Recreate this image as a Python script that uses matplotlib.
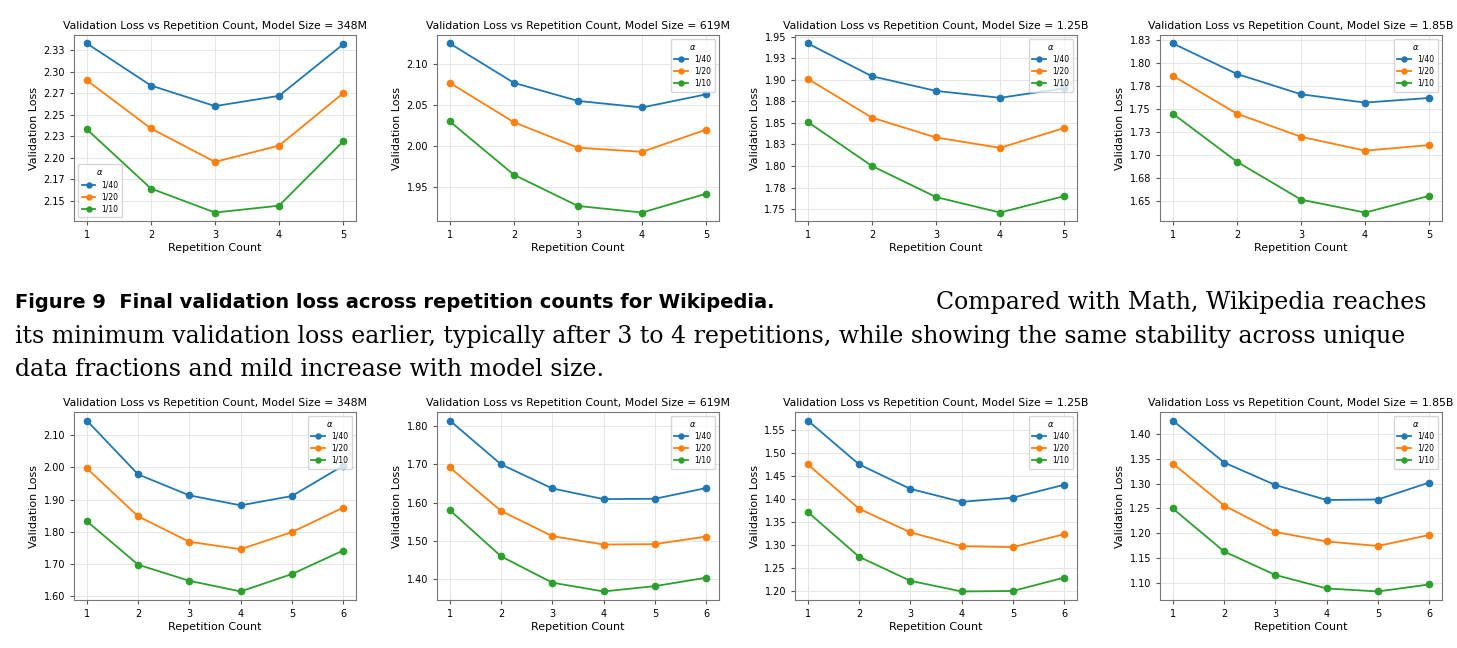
import matplotlib
matplotlib.use("Agg")
import matplotlib.pyplot as plt
from matplotlib.ticker import MultipleLocator, FormatStrFormatter

# --- DATA ---
alphas = ["1/40", "1/20", "1/10"]
colors = ["#1f77b4", "#ff7f0e", "#2ca02c"]

top_sizes = ["348M", "619M", "1.25B", "1.85B"]
top_reps = [1, 2, 3, 4, 5]
top_loss = [
    [[2.333, 2.284, 2.260, 2.272, 2.332],
     [2.290, 2.234, 2.195, 2.214, 2.275],
     [2.233, 2.164, 2.136, 2.144, 2.219]],
    [[2.125, 2.077, 2.055, 2.047, 2.063],
     [2.077, 2.029, 1.998, 1.993, 2.020],
     [2.030, 1.965, 1.927, 1.919, 1.942]],
    [[1.942, 1.904, 1.887, 1.879, 1.890],
     [1.901, 1.856, 1.833, 1.821, 1.844],
     [1.851, 1.800, 1.764, 1.746, 1.765]],
    [[1.821, 1.788, 1.766, 1.757, 1.762],
     [1.786, 1.745, 1.720, 1.705, 1.711],
     [1.745, 1.693, 1.652, 1.638, 1.656]],
]
top_step = [0.025, 0.05, 0.025, 0.025]

bot_sizes = ["348M", "619M", "1.25B", "1.85B"]
bot_reps = [1, 2, 3, 4, 5, 6]
bot_loss = [
    [[2.145, 1.978, 1.913, 1.882, 1.911, 2.005],
     [1.997, 1.848, 1.769, 1.746, 1.799, 1.875],
     [1.833, 1.698, 1.648, 1.615, 1.669, 1.742]],
    [[1.815, 1.700, 1.637, 1.609, 1.610, 1.638],
     [1.692, 1.578, 1.512, 1.490, 1.491, 1.511],
     [1.580, 1.459, 1.390, 1.367, 1.381, 1.403]],
    [[1.570, 1.475, 1.422, 1.394, 1.403, 1.431],
     [1.475, 1.379, 1.328, 1.298, 1.296, 1.324],
     [1.372, 1.275, 1.223, 1.200, 1.201, 1.230]],
    [[1.426, 1.342, 1.297, 1.267, 1.268, 1.302],
     [1.340, 1.256, 1.203, 1.184, 1.175, 1.197],
     [1.250, 1.164, 1.117, 1.090, 1.084, 1.098]],
]
bot_step = [0.1, 0.1, 0.05, 0.05]

caption_bold = "Figure 9  Final validation loss across repetition counts for Wikipedia."
caption_l1 = "Compared with Math, Wikipedia reaches"
caption_l2 = ("its minimum validation loss earlier, typically after 3 to 4 repetitions, "
              "while showing the same stability across unique")
caption_l3 = "data fractions and mild increase with model size."

W, H = 1457, 648
fig = plt.figure(figsize=(W / 100, H / 100), dpi=100)

x_lefts = [74, 437, 795, 1160]
ax_w = 282


def draw_panel(rect, size, reps, loss, step, legend_loc):
    ax = fig.add_axes(rect)
    for vals, a, c in zip(loss, alphas, colors):
        ax.plot(reps, vals, marker="o", markersize=4.5, lw=1.3, color=c, label=a)
    ax.set_title(f"Validation Loss vs Repetition Count, Model Size = {size}",
                 fontsize=7.8, pad=4, family="Liberation Sans Narrow" if False else None)
    ax.set_xlabel("Repetition Count", fontsize=8, labelpad=2)
    ax.set_ylabel("Validation Loss", fontsize=8, labelpad=3)
    ax.set_xticks(reps)
    ax.yaxis.set_major_locator(MultipleLocator(step))
    ax.yaxis.set_major_formatter(FormatStrFormatter("%.2f"))
    ax.tick_params(labelsize=7, length=3, color="#555555")
    ax.grid(True, color="#e6e6e6", lw=0.7)
    for s in ax.spines.values():
        s.set_color("#777777")
    leg = ax.legend(title=r"$\alpha$", loc=legend_loc, fontsize=5.5, title_fontsize=6,
                    markerscale=0.8, handlelength=1.8, borderpad=0.5, labelspacing=0.4)
    leg.get_frame().set_edgecolor("#cccccc")
    return ax


for i in range(4):
    loc = "lower left" if i == 0 else "upper right"
    draw_panel([x_lefts[i] / W, 1 - 221 / H, ax_w / W, 186 / H],
               top_sizes[i], top_reps, top_loss[i], top_step[i], loc)
    draw_panel([x_lefts[i] / W, 1 - 600 / H, ax_w / W, 188 / H],
               bot_sizes[i], bot_reps, bot_loss[i], bot_step[i], "upper right")

# --- caption ---
fs_b = 14
fs_s = 17
fig.text(15 / W, 1 - 303 / H, caption_bold, fontsize=fs_b, fontweight="bold",
         family="DejaVu Sans", va="center", ha="left")
fig.text(1427 / W, 1 - 303 / H, caption_l1, fontsize=fs_s, family="DejaVu Serif",
         va="center", ha="right")
fig.text(15 / W, 1 - 337 / H, caption_l2, fontsize=fs_s, family="DejaVu Serif",
         va="center", ha="left")
fig.text(15 / W, 1 - 370 / H, caption_l3, fontsize=fs_s, family="DejaVu Serif",
         va="center", ha="left")

fig.savefig("out.png", dpi=100)
